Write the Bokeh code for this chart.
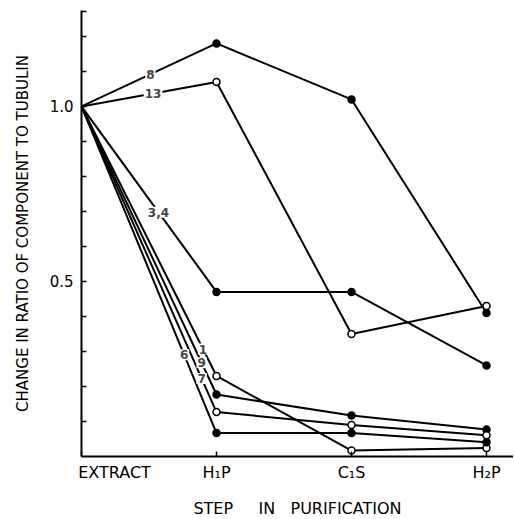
from bokeh.plotting import figure
from bokeh.models import FixedTicker, Label, Range1d
from bokeh.embed import file_html
from bokeh.resources import INLINE

# ---- data ----
steps = ["EXTRACT", "H\u2081P", "C\u2081S", "H\u2082P"]
step_x = [0, 1, 2, 3]

series_names = ["8", "13", "3,4", "1", "9", "7", "6"]
s8 = [1.0, 1.18, 1.02, 0.41]
s13 = [1.0, 1.07, 0.35, 0.43]
s34 = [1.0, 0.47, 0.47, 0.26]
s1 = [1.0, 0.23, 0.017, 0.024]
s9 = [1.0, 0.177, 0.117, 0.077]
s7 = [1.0, 0.127, 0.09, 0.061]
s6 = [1.0, 0.067, 0.067, 0.041]
series_values = [s8, s13, s34, s1, s9, s7, s6]
series_filled = [True, False, True, False, True, False, True]
# fraction along the first segment where each series label sits
label_frac = [0.51, 0.53, 0.57, 0.90, 0.89, 0.89, 0.76]

y_ticks = [0.1, 0.2, 0.3, 0.4, 0.5, 0.6, 0.7, 0.8, 0.9, 1.0, 1.1, 1.2, 1.27]
y_tick_labels = {0.5: "0.5", 1.0: "1.0"}

FONT = "DejaVu Sans"
NBSP = "\u00a0"

p = figure(frame_width=432, frame_height=446,
           x_range=Range1d(0, 3.2), y_range=Range1d(0, 1.274),
           output_backend="svg", toolbar_location=None,
           min_border_left=81, min_border_top=10, min_border_right=0,
           min_border_bottom=62)
p.outline_line_color = None
p.xgrid.visible = False
p.ygrid.visible = False
p.background_fill_color = "white"

# axes ("EXTRACT" sits at the origin but reads from the axis rightwards)
p.xaxis.ticker = FixedTicker(ticks=step_x)
x_labels = {x: s for x, s in zip(step_x, steps)}
x_labels[step_x[0]] = NBSP * 13 + steps[0]
p.xaxis.major_label_overrides = x_labels
p.yaxis.ticker = FixedTicker(ticks=y_ticks)
p.yaxis.major_label_overrides = {t: y_tick_labels.get(t, "") for t in y_ticks}
for ax in (p.xaxis[0], p.yaxis[0]):
    ax.axis_line_width = 2
    ax.major_tick_line_width = 1.5
    ax.major_tick_in = 5
    ax.major_tick_out = 0
    ax.minor_tick_line_color = None
    ax.major_label_text_font = FONT
    ax.major_label_text_font_size = "16px"
    ax.major_label_text_color = "black"
    ax.axis_label_text_font = FONT
    ax.axis_label_text_font_style = "normal"
    ax.axis_label_text_color = "black"
p.xaxis.major_label_standoff = 6
p.yaxis.major_label_standoff = 8
p.yaxis.major_label_text_font_size = "15px"
p.xaxis.axis_label = "STEP" + NBSP * 4 + " IN" + NBSP * 2 + " PURIFICATION"
p.xaxis.axis_label_text_font_size = "16px"
p.xaxis.axis_label_standoff = 14
p.yaxis.axis_label = "CHANGE IN RATIO OF COMPONENT TO TUBULIN"
p.yaxis.axis_label_text_font_size = "15px"
p.yaxis.axis_label_standoff = 15

# series
for vals in series_values:
    p.line(step_x, vals, line_color="black", line_width=2)
for vals, filled in zip(series_values, series_filled):
    p.scatter(step_x[1:], vals[1:], marker="circle", size=7,
              fill_color="black" if filled else "white",
              line_color="black", line_width=1.5)

for name, vals, t in zip(series_names, series_values, label_frac):
    lx = step_x[0] + t * (step_x[1] - step_x[0])
    ly = vals[0] + t * (vals[1] - vals[0])
    p.add_layout(Label(x=lx, y=ly, text=name, text_align="center",
                       text_baseline="middle", text_font=FONT,
                       text_font_size="12px", text_font_style="bold",
                       background_fill_color="white", padding=1))

open("out.html", "w").write(file_html(p, INLINE))
